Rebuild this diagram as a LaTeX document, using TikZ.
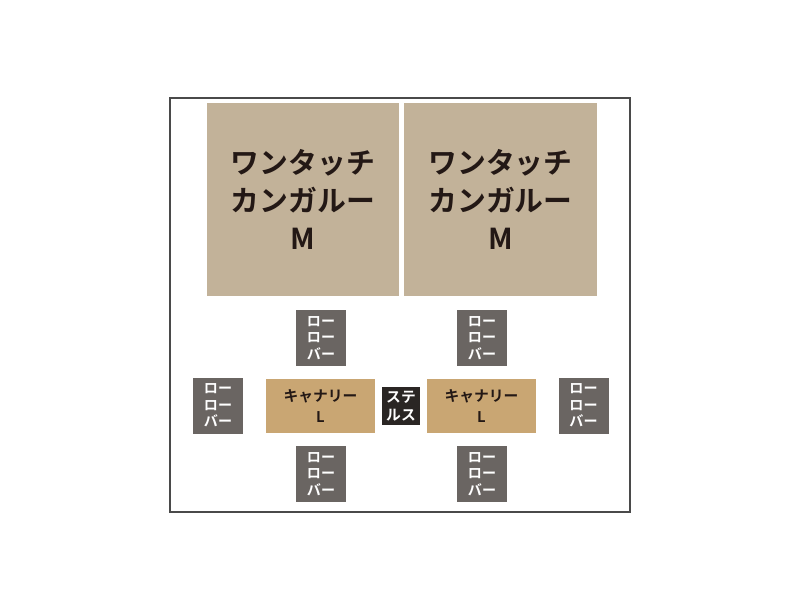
\documentclass[tikz,border=0pt]{standalone}
\usepackage{fontspec}
\setmainfont{Noto Sans CJK JP}[BoldFont={* Bold}]
\definecolor{kangaroo}{HTML}{C2B299}
\definecolor{canary}{HTML}{C9A673}
\definecolor{roller}{HTML}{6A6562}
\definecolor{stealth}{HTML}{2A2624}
\definecolor{frame}{HTML}{4A4A4A}
\definecolor{ink}{HTML}{231815}

\begin{document}
\begin{tikzpicture}[x=0.025cm,y=-0.025cm]

\tikzset{big/.style = {fill=kangaroo, text=ink, inner sep=0, minimum width=4.8cm, minimum height=4.825cm, align=center, font=\bfseries\fontsize{20.5}{27}\selectfont}}
\tikzset{roll/.style = {fill=roller, text=white, inner sep=0, minimum width=1.25cm, minimum height=1.4cm, align=center, font=\bfseries\fontsize{10}{11.8}\selectfont}}
\tikzset{cage/.style = {fill=canary, text=ink, inner sep=0, minimum width=2.725cm, minimum height=1.35cm, align=center, font=\bfseries\fontsize{10.5}{15.5}\selectfont}}
\tikzset{hide/.style = {fill=stealth, text=white, inner sep=0, minimum width=0.95cm, minimum height=0.95cm, align=center, font=\bfseries\fontsize{10.5}{12.8}\selectfont}}

\useasboundingbox (0,0) rectangle (800,600);
\draw[frame, line width=0.8pt] (170,98) rectangle (630,512);

%kangaroo
\node[big] (km1) at (303,199.5) {ワンタッチ\\カンガルー\\M};
\node[big] (km2) at (500.5,199.5) {ワンタッチ\\カンガルー\\M};
%canary
\node[cage] (cl1) at (320.5,406) {キャナリー\\L};
\node[cage] (cl2) at (481.5,406) {キャナリー\\L};
\node[hide] (st) at (401,406) {ステ\\ルス};
%roller bars
\node[roll] (r1) at (321,338) {ロー\\ロー\\バー};
\node[roll] (r2) at (482,338) {ロー\\ロー\\バー};
\node[roll] (r3) at (218,405.5) {ロー\\ロー\\バー};
\node[roll] (r4) at (583.5,405.5) {ロー\\ロー\\バー};
\node[roll] (r5) at (321,474) {ロー\\ロー\\バー};
\node[roll] (r6) at (482,474) {ロー\\ロー\\バー};

\end{tikzpicture}
\end{document}
